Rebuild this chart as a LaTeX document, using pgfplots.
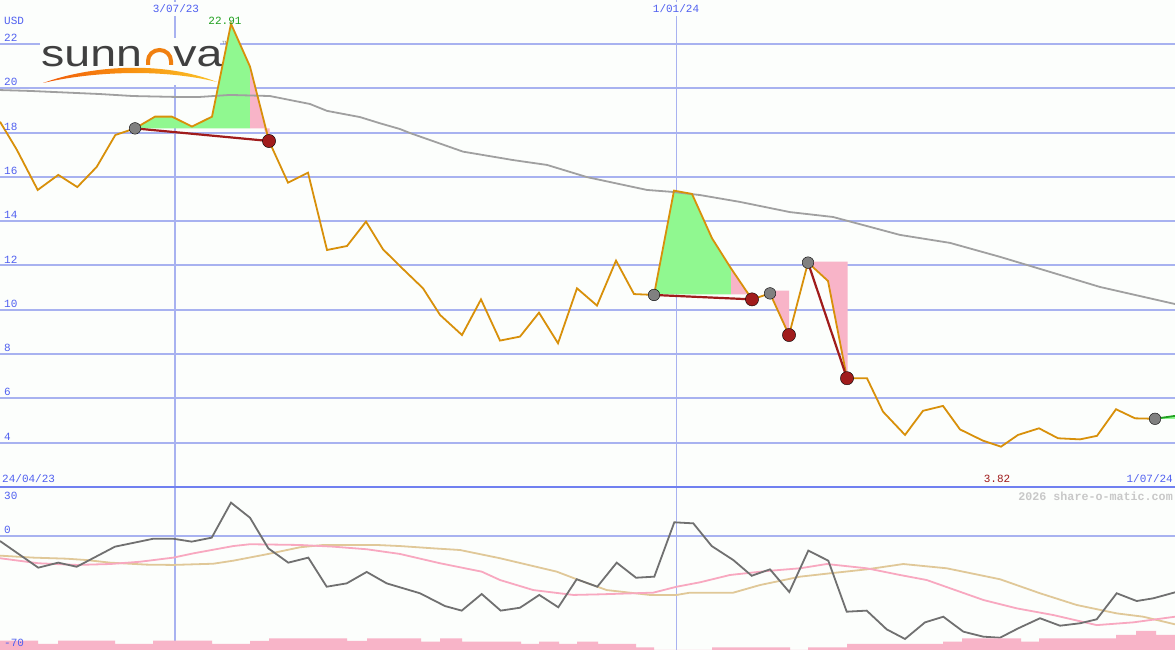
\documentclass[border=0pt]{standalone}
\usepackage{fontspec}
\setmainfont{Liberation Sans}
\newfontfamily\mono{Liberation Mono}
\usepackage{pgfplots}
\pgfplotsset{compat=1.18}

\definecolor{bg}{RGB}{252,254,252}
\definecolor{gridblue}{RGB}{168,178,240}
\definecolor{sepblue}{RGB}{112,128,240}
\definecolor{labblue}{RGB}{80,96,240}
\definecolor{price}{RGB}{216,144,10}
\definecolor{ma}{RGB}{160,160,160}
\definecolor{upfill}{RGB}{144,248,144}
\definecolor{downfill}{RGB}{248,180,200}
\definecolor{darkred}{RGB}{160,28,28}
\definecolor{dotgray}{RGB}{128,128,128}
\definecolor{oscgray}{RGB}{112,112,112}
\definecolor{oscpink}{RGB}{248,168,192}
\definecolor{osctan}{RGB}{224,200,152}
\definecolor{volpink}{RGB}{248,180,200}
\definecolor{upgreen}{RGB}{32,160,32}
\definecolor{logogray}{RGB}{64,64,64}

\pgfplotsset{
  panel/.style={width=1175pt, scale only axis, xmin=0, xmax=1175,
    anchor=south west, axis line style={draw=none}, major tick length=0pt,
    xticklabels={}, yticklabels={}},
}
\newcommand{\lab}{\mono\fontsize{11}{12}\selectfont}

\begin{document}
\begin{tikzpicture}
\fill[bg] (0,0) rectangle (1175pt,650pt);
\path[use as bounding box] (0,0) rectangle (1175pt,650pt);

% price panel: grid only
\begin{axis}[panel, at={(0pt,163pt)}, height=487pt, ymin=2, ymax=23.986,
  xtick={175}, ytick={4,6,...,22},
  extra x ticks={676}, extra x tick labels={},
  extra x tick style={grid style={draw=gridblue, line width=1pt}},
  xmajorgrids, ymajorgrids, grid style={draw=gridblue, line width=2pt}]
\addplot[draw=none] coordinates {(0,10) (1175,10)};
\end{axis}

% logo
\fill[bg] (40pt,565pt) rectangle (220pt,612pt);
\node[anchor=base west, inner sep=0pt, xscale=1.24, text=logogray] at (41pt,583.5pt)
  {\fontsize{37.5}{40}\selectfont sunn};
\node[anchor=base west, inner sep=0pt, xscale=1.24, text=logogray] at (173pt,583.5pt)
  {\fontsize{37.5}{40}\selectfont va};
\draw[line width=4pt, color={rgb,255:red,240;green,128;blue,16}]
  (148pt,585pt) -- (148pt,589pt) arc[start angle=180, end angle=0, x radius=11.5pt, y radius=11pt] -- (171pt,585pt);
\shade[left color={rgb,255:red,240;green,90;blue,10}, right color={rgb,255:red,250;green,195;blue,40},
  middle color={rgb,255:red,248;green,145;blue,16}]
  (43pt,567pt) .. controls (90pt,584pt) and (160pt,590pt) .. (217pt,568pt)
  .. controls (160pt,582pt) and (90pt,578pt) .. (43pt,567pt) -- cycle;
\node[anchor=west, inner sep=0pt, text=gray] at (222pt,607pt) {\fontsize{4.5}{5}\selectfont TM};

% price panel: data
\begin{axis}[panel, at={(0pt,163pt)}, height=487pt, ymin=2, ymax=23.986,
  xtick=\empty, ytick=\empty]
% rally / drop shading
\addplot[fill=upfill, draw=none] coordinates {(135,18.19) (155,18.72) (172,18.72) (192,18.27) (212,18.72) (231,22.91) (250,20.98) (250,18.19)} -- cycle;
\addplot[fill=downfill, draw=none] coordinates {(250,20.98) (265.8,18.19) (250,18.19)} -- cycle;
\addplot[fill=downfill, draw=none] coordinates {(264,18.19) (269.5,18.19) (269.5,17.9) (266,17.9)} -- cycle;
\addplot[fill=upfill, draw=none] coordinates {(654,10.70) (674,15.38) (692,15.23) (712,13.23) (731,11.87) (731,10.70)} -- cycle;
\addplot[fill=downfill, draw=none] coordinates {(731,11.87) (748.6,10.70) (731,10.70)} -- cycle;
\addplot[fill=downfill, draw=none] coordinates {(770,10.86) (789,10.86) (789,8.86) (770,10.74)} -- cycle;
\addplot[fill=downfill, draw=none] coordinates {(808,12.17) (847.7,12.17) (847.7,6.91) (828,11.30) (808,12.13)} -- cycle;
\addplot[fill=upfill, draw=none] coordinates {(1155,5.08) (1175,5.21) (1175,5.08)} -- cycle;
% moving average
\addplot[ma, line width=1.8pt] coordinates {
(0,19.92) (30,19.88) (100,19.74) (133,19.65) (175,19.61) (200,19.61) (230,19.70)
(270,19.65) (290,19.47) (310,19.29) (327,18.98) (360,18.70) (380,18.42) (400,18.16)
(410,17.98) (463,17.14) (513,16.76) (547,16.54) (587,15.99) (647,15.41) (673,15.32)
(700,15.18) (740,14.87) (790,14.41) (833,14.19) (900,13.38) (950,13.02) (1000,12.39)
(1050,11.71) (1100,11.03) (1175,10.26)};
% weekly close
\addplot[price, line width=1.8pt] coordinates {
(0,18.49) (17,17.21) (37.7,15.41) (58.3,16.09) (77.3,15.54) (96.7,16.45) (115.3,17.89)
(135,18.19) (155,18.72) (172,18.72) (192,18.27) (212,18.72) (231,22.91) (250,20.98)
(269,17.62) (288,15.74) (308,16.19) (327,12.70) (347,12.88) (366,13.98) (383,12.73)
(403,11.84) (423,10.97) (440,9.77) (462,8.86) (481,10.47) (500,8.61) (520,8.79)
(539,9.87) (558,8.49) (577,10.97) (597,10.19) (616,12.22) (634,10.71) (654,10.67)
(674,15.38) (692,15.23) (712,13.23) (731,11.87) (752,10.47) (770,10.74) (789,8.86)
(808,12.13) (828,11.30) (847,6.91) (867,6.91) (883,5.40) (905,4.35) (923,5.44)
(943,5.66) (960,4.60) (983,4.09) (1001,3.82) (1018,4.35) (1039,4.65) (1058,4.20)
(1080,4.15) (1097,4.31) (1116,5.51) (1135,5.10) (1155,5.08)};
\addplot[upgreen, line width=1.8pt] coordinates {(1155,5.08) (1175,5.21)};
% signal links
\addplot[darkred, line width=2.2pt] coordinates {(135,18.19) (269,17.62)};
\addplot[darkred, line width=2.2pt] coordinates {(654,10.67) (752,10.47)};
\addplot[darkred, line width=2.2pt] coordinates {(808,12.13) (847,6.91)};
% signal dots
\addplot[only marks, mark=*, mark size=5.8pt, mark options={fill=dotgray, draw=none}]
  coordinates {(135,18.19) (654,10.67) (770,10.74) (808,12.13) (1155,5.08)};
\addplot[only marks, mark=*, mark size=6.6pt, mark options={fill=darkred, draw=none}]
  coordinates {(269,17.62) (752,10.47) (789,8.86) (847,6.91)};
\end{axis}

% oscillator panel
\begin{axis}[panel, at={(0pt,0pt)}, height=163pt, ymin=-75.05, ymax=31.98,
  xtick={175}, ytick={0},
  extra x ticks={676}, extra x tick labels={},
  extra x tick style={grid style={draw=gridblue, line width=1pt}},
  xmajorgrids, ymajorgrids, grid style={draw=gridblue, line width=2pt}]
\addplot[osctan, line width=1.8pt] coordinates {
(0,-13.1) (33.3,-14.4) (66.7,-15.1) (86.7,-16.0) (110,-17.7) (146.7,-19.0) (173.3,-19.2)
(213.3,-18.4) (233.3,-16.4) (266.7,-12.2) (300,-7.6) (323.3,-6.1) (353.3,-6.1) (376.7,-6.1)
(400,-6.8) (433.3,-8.3) (460,-9.4) (500,-14.8) (556.7,-23.6) (576.7,-28.6) (606.7,-35.7)
(650,-38.9) (676.7,-38.9) (690,-37.4) (733.3,-37.4) (760,-32.4) (800,-26.9) (830,-24.7)
(866.7,-22.1) (903.3,-18.6) (946.7,-21.4) (1000,-28.6) (1040,-37.8) (1076.7,-45.5)
(1116.7,-51.0) (1143.3,-53.2) (1175,-58.2)};
\addplot[oscpink, line width=1.8pt] coordinates {
(0,-14.8) (38.3,-18.1) (76.7,-19.2) (110,-18.6) (140,-17.1) (173.3,-14.4) (193.3,-11.6)
(233.3,-6.8) (250,-5.6) (300,-6.1) (333.3,-7.2) (366.7,-8.9) (400,-12.0) (440,-18.1)
(481.7,-23.6) (500,-29.1) (533.3,-35.7) (573.3,-38.9) (600,-38.5) (653.3,-37.4)
(676.7,-33.5) (700,-30.6) (730,-25.8) (766.7,-23.2) (800,-21.4) (826.7,-18.6)
(866.7,-21.4) (900,-25.8) (926.7,-29.1) (950,-34.5) (983.3,-42.2) (1016.7,-47.7)
(1053.3,-52.1) (1096.7,-58.7) (1133.3,-56.9) (1175,-53.2)};
\addplot[oscgray, line width=1.8pt] coordinates {
(0,-3.5) (38.3,-21.0) (58.3,-17.7) (76.7,-20.4) (115,-7.2) (153.3,-2.0) (173.3,-2.0)
(191.7,-3.9) (211.7,-1.3) (231,21.7) (250,11.8) (268.3,-8.3) (288.3,-17.7) (308.3,-14.4)
(326.7,-33.5) (346.7,-31.3) (366.7,-23.8) (386.7,-31.3) (400,-33.9) (420,-37.8)
(445,-46.2) (461.7,-49.2) (481.7,-38.3) (500.7,-49.2) (520,-47.3) (539.3,-38.9)
(558.3,-47.0) (576.7,-28.6) (597.3,-33.5) (616.7,-17.7) (636,-27.6) (654.3,-26.9)
(674.3,8.8) (693.3,8.1) (711.7,-6.8) (733.3,-16.0) (751.7,-26.3) (770,-22.1) (789.3,-37.0)
(808.3,-9.8) (828.3,-16.4) (846.7,-49.9) (866.7,-49.2) (886.7,-61.5) (905,-67.8)
(925,-56.9) (943.3,-53.2) (963.3,-63.0) (983.3,-66.3) (1000,-67.0) (1018.3,-60.8)
(1040,-54.2) (1060,-59.1) (1080,-57.5) (1096.7,-54.9) (1116.7,-37.8) (1136.7,-42.9)
(1153.3,-41.1) (1175,-37.2)};
\end{axis}

% volume bars
\begin{axis}[panel, at={(0pt,0pt)}, height=163pt, ymin=0, ymax=163,
  xtick=\empty, ytick=\empty]
\addplot[const plot mark left, fill=volpink, draw=none] coordinates {
(0,9.3) (38,6) (58,9.3) (115,6) (153,9.3) (212,6) (250,9) (269,11.7) (347,9) (367,11.7)
(421,8.3) (440,11.7) (462,8.3) (521,6) (539,8.3) (559,6) (577,8.3) (598,6) (636,2.7)
(654,0) (712,2.7) (790,0) (808,2.7) (847,6) (943,8.3) (962,11.7) (1021,8.3) (1039,11.7)
(1116,15) (1136,19) (1156,15) (1175,15)} \closedcycle;
\end{axis}

% panel separator
\draw[sepblue, line width=2pt] (0pt,163pt) -- (1175pt,163pt);

% labels
\begin{scope}[every node/.style={inner sep=0pt, text=labblue}]
\node[anchor=west] at (4pt,629pt) {\lab USD};
\foreach \v/\y in {22/612,20/568,18/523,16/479,14/435,12/390,10/346,8/302,6/258,4/213}
  \node[anchor=west] at (4pt,\y pt) {\lab \v};
\node[fill=bg, inner sep=3pt] at (176pt,641pt) {\lab 3/07/23};
\node[fill=bg, inner sep=3pt] at (676pt,641pt) {\lab 1/01/24};
\node[text=upgreen] at (225pt,629pt) {\lab 22.91};
\node[anchor=west] at (2pt,171pt) {\lab 24/04/23};
\node[anchor=east] at (1173pt,171pt) {\lab 1/07/24};
\node[text=darkred] at (997pt,171pt) {\lab 3.82};
\node[anchor=west] at (4pt,154pt) {\lab 30};
\node[anchor=west] at (4pt,120pt) {\lab 0};
\node[anchor=west] at (4pt,7pt) {\lab -70};
\node[anchor=east, text={rgb,255:red,200;green,200;blue,200}] at (1173pt,154pt)
  {\mono\bfseries\fontsize{11.7}{13}\selectfont 2026 share-o-matic.com};
\end{scope}
\end{tikzpicture}
\end{document}
